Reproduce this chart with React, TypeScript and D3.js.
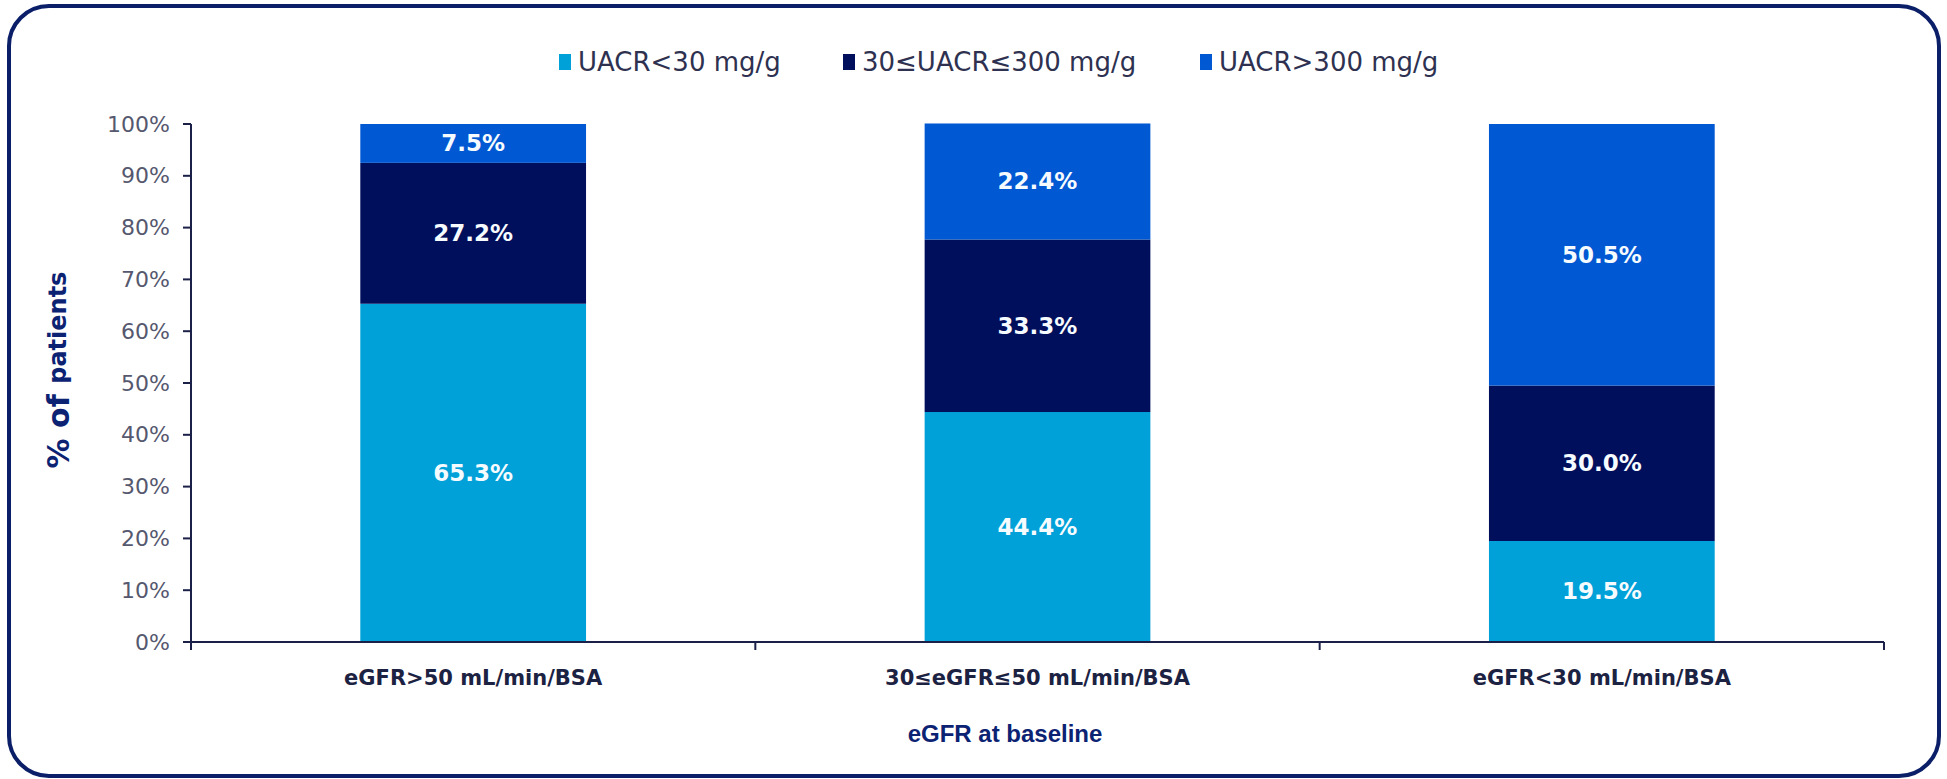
import React from "react";
import * as d3 from "d3";

// eGFR groups at baseline
const categories = [
  "eGFR>50 mL/min/BSA",
  "30≤eGFR≤50 mL/min/BSA",
  "eGFR<30 mL/min/BSA",
];

// UACR strata (share of patients, %)
const seriesNames = ["UACR<30 mg/g", "30≤UACR≤300 mg/g", "UACR>300 mg/g"];
const uacrLow = [65.3, 44.4, 19.5];
const uacrMid = [27.2, 33.3, 30.0];
const uacrHigh = [7.5, 22.4, 50.5];

const yTicks = [0, 10, 20, 30, 40, 50, 60, 70, 80, 90, 100];

const colors = ["#00a0d8", "#000f5c", "#0058d2"];

const W = 1947;
const H = 779;
const plot = { left: 191, right: 1884, top: 124, bottom: 642 };

export default function App() {
  const rows = categories.map((c, i) => ({
    cat: c,
    s0: uacrLow[i],
    s1: uacrMid[i],
    s2: uacrHigh[i],
  }));
  const keys = ["s0", "s1", "s2"];
  const stacked = d3.stack<any>().keys(keys)(rows);

  const x = d3
    .scaleBand<string>()
    .domain(categories)
    .range([plot.left, plot.right])
    .paddingInner(0.6)
    .paddingOuter(0.3);
  const y = d3.scaleLinear().domain([0, 100]).range([plot.bottom, plot.top]);

  const step = x.step();
  const boundaries = d3.range(categories.length + 1).map((k) => plot.left + k * step);

  const axisColor = "#1b2048";
  const legendX = [559, 843, 1200];

  return (
    <svg
      width={W}
      height={H}
      style={{ position: "absolute", left: 0, top: 0, background: "#fff" }}
    >
      {/* rounded frame */}
      <rect
        x={9}
        y={6}
        width={1930}
        height={770}
        rx={40}
        ry={40}
        fill="#ffffff"
        stroke="#0b1f68"
        strokeWidth={4}
      />

      {/* legend */}
      {seriesNames.map((name, i) => (
        <g key={name} transform={`translate(${legendX[i]},62)`}>
          <rect x={0} y={-8} width={12} height={16} fill={colors[i]} />
          <text
            x={19}
            y={0}
            dominantBaseline="central"
            fontFamily="Verdana, 'DejaVu Sans', sans-serif"
            fontSize={26}
            fill="#2e3150"
          >
            {name}
          </text>
        </g>
      ))}

      {/* stacked bars */}
      {stacked.map((layer, si) => (
        <g key={layer.key} fill={colors[si]}>
          {layer.map((d, ci) => (
            <rect
              key={ci}
              x={x(categories[ci])}
              y={y(d[1])}
              width={x.bandwidth()}
              height={y(d[0]) - y(d[1])}
            />
          ))}
        </g>
      ))}

      {/* value labels */}
      {stacked.map((layer, si) => (
        <g key={"l" + layer.key}>
          {layer.map((d, ci) => (
            <text
              key={ci}
              x={(x(categories[ci]) as number) + x.bandwidth() / 2}
              y={(y(d[0]) + y(d[1])) / 2}
              textAnchor="middle"
              dominantBaseline="central"
              fontFamily="Verdana, 'DejaVu Sans', sans-serif"
              fontWeight="bold"
              fontSize={23}
              fill="#f6fbff"
            >
              {(d[1] - d[0]).toFixed(1)}%
            </text>
          ))}
        </g>
      ))}

      {/* y axis */}
      <line x1={plot.left} x2={plot.left} y1={plot.top} y2={plot.bottom} stroke={axisColor} strokeWidth={2} />
      {yTicks.map((t) => (
        <g key={t} transform={`translate(0,${y(t)})`}>
          <line x1={plot.left - 8} x2={plot.left} stroke={axisColor} strokeWidth={2} />
          <text
            x={plot.left - 21}
            y={0}
            textAnchor="end"
            dominantBaseline="central"
            fontFamily="Verdana, 'DejaVu Sans', sans-serif"
            fontSize={22}
            fill="#55586e"
          >
            {t}%
          </text>
        </g>
      ))}

      {/* x axis */}
      <line x1={plot.left - 8} x2={plot.right} y1={plot.bottom} y2={plot.bottom} stroke={axisColor} strokeWidth={2} />
      {boundaries.map((bx, i) => (
        <line key={i} x1={bx} x2={bx} y1={plot.bottom} y2={plot.bottom + 8} stroke={axisColor} strokeWidth={2} />
      ))}
      {categories.map((c) => (
        <text
          key={c}
          x={(x(c) as number) + x.bandwidth() / 2}
          y={678}
          textAnchor="middle"
          dominantBaseline="central"
          fontFamily="Verdana, 'DejaVu Sans', sans-serif"
          fontWeight="bold"
          fontSize={21}
          fill="#1c2242"
        >
          {c}
        </text>
      ))}

      {/* axis titles */}
      <text
        x={1005}
        y={733}
        textAnchor="middle"
        dominantBaseline="central"
        fontFamily="'Liberation Sans', Arial, sans-serif"
        fontWeight="bold"
        fontSize={24}
        fill="#0c2272"
      >
        eGFR at baseline
      </text>
      <text
        transform="translate(58,370) rotate(-90)"
        textAnchor="middle"
        dominantBaseline="central"
        fontFamily="Verdana, 'DejaVu Sans', sans-serif"
        fontWeight="bold"
        fill="#0c2272"
      >
        <tspan fontSize={30}>% of </tspan>
        <tspan fontSize={24}>patients</tspan>
      </text>
    </svg>
  );
}
